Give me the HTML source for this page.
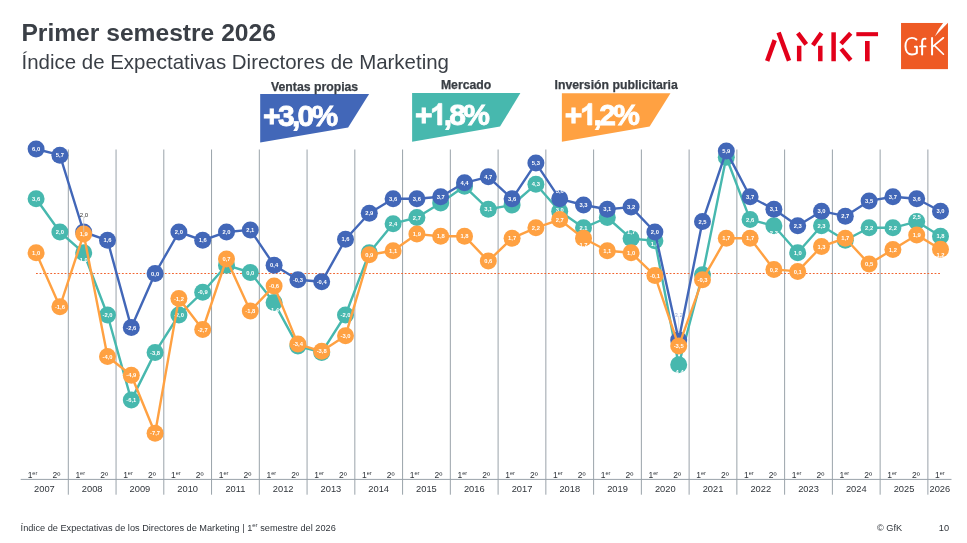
<!DOCTYPE html>
<html><head><meta charset="utf-8"><title>Índice de Expectativas Directores de Marketing</title>
<style>
html,body{margin:0;padding:0;background:#fff}
body{width:967px;height:543px;position:relative;overflow:hidden;font-family:"Liberation Sans",sans-serif;color:#3a3f46}
.abs{position:absolute;white-space:nowrap;line-height:1}
.title{left:21.4px;top:20.7px;font-size:24.62px;font-weight:bold}
.sub{left:21.5px;top:52.1px;font-size:20.47px}
.lab{font-size:12.25px;font-weight:bold;-webkit-text-stroke:0.25px #393e44;text-align:center;color:#393e44}
.big{font-size:30px;font-weight:bold;color:#fff;letter-spacing:-2.7px;-webkit-text-stroke:0.8px #fff}
.one{display:inline-block;width:16.68px;height:22.27px;margin-right:-2.7px;overflow:visible}
.yr{position:absolute;top:484.9px;font-size:9.3px;line-height:1;text-align:center;color:#30353b}
.hf{position:absolute;top:471.0px;width:23.875px;font-size:8.5px;line-height:1;text-align:center;color:#30353b}
.hf sup{font-size:5.6px;vertical-align:baseline;position:relative;top:-3.2px}
.foot{font-size:9.2px;color:#30353b}
.foot sup{font-size:6px;vertical-align:baseline;position:relative;top:-3.4px}
#w{position:absolute;left:0;top:0;width:967px;height:543px;will-change:transform;background:#fff}
</style></head><body><div id="w">
<div class="abs title">Primer semestre 2026</div>
<div class="abs sub">Índice de Expectativas Directores de Marketing</div>
<svg style="position:absolute;left:755px;top:20px" width="140" height="55" viewBox="0 0 967 380">
<g stroke="#e2001a" stroke-width="31" fill="none" stroke-linecap="butt">
<line x1="136" y1="139" x2="84" y2="284"/>
<line x1="163" y1="87" x2="235" y2="282"/>
<line x1="305" y1="178" x2="305" y2="285"/>
<line x1="296" y1="91" x2="354" y2="169"/>
<line x1="459" y1="90" x2="400" y2="174"/>
<line x1="451" y1="178" x2="451" y2="285"/>
<line x1="543" y1="85" x2="543" y2="285"/>
<line x1="661" y1="91" x2="594" y2="164"/>
<line x1="596" y1="199" x2="661" y2="278"/>
<line x1="700" y1="98" x2="850" y2="98" stroke-width="28"/>
<line x1="776" y1="145" x2="776" y2="285" stroke-width="32"/>
</g></svg>
<svg style="position:absolute;left:890px;top:15px" width="70" height="60" viewBox="0 0 634 543">
<rect x="100" y="72" width="425" height="418" fill="#ee5a24"/>
<path d="M407,192 Q440,120 481,72 L523,72 Z" fill="#fff"/>
<g stroke="#fff" stroke-width="18" fill="none" stroke-linecap="round" stroke-linejoin="round">
<path d="M239,222 C228,211 212,207 198,207 C162,207 140,240 140,283 C140,326 162,358 198,358 C218,358 235,352 243,345 L243,288 L226,288"/>
<path d="M321,215 C302,210 291,221 291,244 L291,357"/>
<line x1="273" y1="284" x2="322" y2="284"/>
<line x1="381" y1="207" x2="381" y2="357"/>
<line x1="389" y1="283" x2="484" y2="206" stroke-width="15"/>
<line x1="404" y1="277" x2="484" y2="355" stroke-width="15"/>
</g></svg>
<svg style="position:absolute;left:0;top:0" width="967" height="150" viewBox="0 0 967 150">
<polygon points="260.2,94.1 369.1,94.1 348.1,127.4 260.2,142.6" fill="#4267b8"/>
<polygon points="412.1,93.0 520.4,93.0 500.0,126.6 412.1,141.8" fill="#47b8ae"/>
<polygon points="561.9,93.3 670.5,93.3 649.6,126.6 561.9,141.8" fill="#ffa142"/>
</svg>
<div class="abs lab" style="left:264.6px;width:100px;top:81.23px">Ventas propias</div>
<div class="abs lab" style="left:416.1px;width:100px;top:78.93px">Mercado</div>
<div class="abs lab" style="left:546.2px;width:140px;top:79.43px">Inversión publicitaria</div>
<div class="abs big" style="left:263.1px;top:101.31px">+3,0%</div>
<div class="abs big" style="left:414.9px;top:99.91px">+<svg class="one" viewBox="0 -1500 1139 1520"><path d="M806,0 L525,0 L525,-1059 Q371,-915 162,-846 L162,-1101 Q272,-1137 401,-1237.5 Q530,-1338 578,-1472 L806,-1472 Z" fill="#fff" stroke="#fff" stroke-width="54"/></svg>,8%</div>
<div class="abs big" style="left:564.8px;top:99.91px">+<svg class="one" viewBox="0 -1500 1139 1520"><path d="M806,0 L525,0 L525,-1059 Q371,-915 162,-846 L162,-1101 Q272,-1137 401,-1237.5 Q530,-1338 578,-1472 L806,-1472 Z" fill="#fff" stroke="#fff" stroke-width="54"/></svg>,2%</div>
<svg width="967" height="543" viewBox="0 0 967 543" style="position:absolute;left:0;top:0" font-family="Liberation Sans, sans-serif">
<g stroke="#9aa3aa" stroke-width="1"><line x1="68.30" y1="149.5" x2="68.30" y2="494.7"/><line x1="116.06" y1="149.5" x2="116.06" y2="494.7"/><line x1="163.81" y1="149.5" x2="163.81" y2="494.7"/><line x1="211.56" y1="149.5" x2="211.56" y2="494.7"/><line x1="259.32" y1="149.5" x2="259.32" y2="494.7"/><line x1="307.07" y1="149.5" x2="307.07" y2="494.7"/><line x1="354.83" y1="149.5" x2="354.83" y2="494.7"/><line x1="402.59" y1="149.5" x2="402.59" y2="494.7"/><line x1="450.34" y1="149.5" x2="450.34" y2="494.7"/><line x1="498.10" y1="149.5" x2="498.10" y2="494.7"/><line x1="545.85" y1="149.5" x2="545.85" y2="494.7"/><line x1="593.61" y1="149.5" x2="593.61" y2="494.7"/><line x1="641.36" y1="149.5" x2="641.36" y2="494.7"/><line x1="689.12" y1="149.5" x2="689.12" y2="494.7"/><line x1="736.87" y1="149.5" x2="736.87" y2="494.7"/><line x1="784.62" y1="149.5" x2="784.62" y2="494.7"/><line x1="832.38" y1="149.5" x2="832.38" y2="494.7"/><line x1="880.13" y1="149.5" x2="880.13" y2="494.7"/><line x1="927.89" y1="149.5" x2="927.89" y2="494.7"/><line x1="20.7" y1="479.4" x2="951.5" y2="479.4"/></g>
<line x1="36" y1="273.5" x2="940" y2="273.5" stroke="#f1642f" stroke-width="1.05" stroke-dasharray="1.8 1.78"/>
<polyline points="36.1,198.8 59.9,232.0 83.7,252.8 107.5,315.0 131.3,400.1 155.1,352.4 178.9,315.0 202.7,292.2 226.5,265.2 250.3,272.5 274.1,302.6 297.9,346.1 321.7,352.4 345.5,315.0 369.3,252.8 393.1,223.7 416.9,217.5 440.7,202.9 464.5,186.3 488.3,209.2 512.1,205.0 535.9,184.3 559.7,211.2 583.5,227.8 607.3,217.5 631.1,238.6 654.9,240.7 678.7,364.8 702.5,274.7 726.3,157.3 750.1,219.6 773.9,225.8 797.7,252.8 821.5,225.8 845.3,240.3 869.1,227.8 892.9,227.8 916.7,221.6 940.5,236.2" fill="none" stroke="#47b8ae" stroke-width="2.4" stroke-linejoin="round"/>
<circle cx="36.1" cy="198.8" r="8.5" fill="#47b8ae"/>
<circle cx="59.9" cy="232.0" r="8.5" fill="#47b8ae"/>
<circle cx="83.7" cy="252.8" r="8.5" fill="#47b8ae"/>
<circle cx="107.5" cy="315.0" r="8.5" fill="#47b8ae"/>
<circle cx="131.3" cy="400.1" r="8.5" fill="#47b8ae"/>
<circle cx="155.1" cy="352.4" r="8.5" fill="#47b8ae"/>
<circle cx="178.9" cy="315.0" r="8.5" fill="#47b8ae"/>
<circle cx="202.7" cy="292.2" r="8.5" fill="#47b8ae"/>
<circle cx="226.5" cy="265.2" r="8.5" fill="#47b8ae"/>
<circle cx="250.3" cy="272.5" r="8.5" fill="#47b8ae"/>
<circle cx="274.1" cy="302.6" r="8.5" fill="#47b8ae"/>
<circle cx="297.9" cy="346.1" r="8.5" fill="#47b8ae"/>
<circle cx="321.7" cy="352.4" r="8.5" fill="#47b8ae"/>
<circle cx="345.5" cy="315.0" r="8.5" fill="#47b8ae"/>
<circle cx="369.3" cy="252.8" r="8.5" fill="#47b8ae"/>
<circle cx="393.1" cy="223.7" r="8.5" fill="#47b8ae"/>
<circle cx="416.9" cy="217.5" r="8.5" fill="#47b8ae"/>
<circle cx="440.7" cy="202.9" r="8.5" fill="#47b8ae"/>
<circle cx="464.5" cy="186.3" r="8.5" fill="#47b8ae"/>
<circle cx="488.3" cy="209.2" r="8.5" fill="#47b8ae"/>
<circle cx="512.1" cy="205.0" r="8.5" fill="#47b8ae"/>
<circle cx="535.9" cy="184.3" r="8.5" fill="#47b8ae"/>
<circle cx="559.7" cy="211.2" r="8.5" fill="#47b8ae"/>
<circle cx="583.5" cy="227.8" r="8.5" fill="#47b8ae"/>
<circle cx="607.3" cy="217.5" r="8.5" fill="#47b8ae"/>
<circle cx="631.1" cy="238.6" r="8.5" fill="#47b8ae"/>
<circle cx="654.9" cy="240.7" r="8.5" fill="#47b8ae"/>
<circle cx="678.7" cy="364.8" r="8.5" fill="#47b8ae"/>
<circle cx="702.5" cy="274.7" r="8.5" fill="#47b8ae"/>
<circle cx="726.3" cy="157.3" r="8.5" fill="#47b8ae"/>
<circle cx="750.1" cy="219.6" r="8.5" fill="#47b8ae"/>
<circle cx="773.9" cy="225.8" r="8.5" fill="#47b8ae"/>
<circle cx="797.7" cy="252.8" r="8.5" fill="#47b8ae"/>
<circle cx="821.5" cy="225.8" r="8.5" fill="#47b8ae"/>
<circle cx="845.3" cy="240.3" r="8.5" fill="#47b8ae"/>
<circle cx="869.1" cy="227.8" r="8.5" fill="#47b8ae"/>
<circle cx="892.9" cy="227.8" r="8.5" fill="#47b8ae"/>
<circle cx="916.7" cy="221.6" r="8.5" fill="#47b8ae"/>
<circle cx="940.5" cy="236.2" r="8.5" fill="#47b8ae"/>
<g fill="#fff" font-weight="bold" font-size="5.8" text-anchor="middle"><text x="36.1" y="200.9">3,6</text><text x="59.9" y="234.1">2,0</text><text x="83.7" y="262.4">1,0</text><text x="107.5" y="317.1">-2,0</text><text x="131.3" y="402.2">-6,1</text><text x="155.1" y="354.5">-3,8</text><text x="178.9" y="317.1">-2,0</text><text x="202.7" y="294.3">-0,9</text><text x="250.3" y="274.6">0,0</text><text x="274.1" y="311.7">-1,4</text><text x="345.5" y="317.1">-2,0</text><text x="393.1" y="225.8">2,4</text><text x="416.9" y="219.6">2,7</text><text x="488.3" y="211.3">3,1</text><text x="535.9" y="186.4">4,3</text><text x="559.7" y="212.3">3,0</text><text x="583.5" y="229.9">2,1</text><text x="631.1" y="233.7">1,7</text><text x="654.9" y="246.1">1,6</text><text x="678.7" y="374.4">-4,4</text><text x="750.1" y="221.7">2,6</text><text x="773.9" y="234.9">2,3</text><text x="797.7" y="254.8">1,0</text><text x="821.5" y="227.9">2,3</text><text x="869.1" y="229.9">2,2</text><text x="892.9" y="229.9">2,2</text><text x="916.7" y="218.7">2,5</text><text x="940.5" y="238.2">1,8</text></g>
<polyline points="36.1,149.0 59.9,155.2 83.7,232.0 107.5,240.3 131.3,327.4 155.1,273.5 178.9,232.0 202.7,240.3 226.5,232.0 250.3,229.9 274.1,265.2 297.9,279.7 321.7,281.8 345.5,239.3 369.3,213.3 393.1,198.8 416.9,198.8 440.7,196.7 464.5,182.8 488.3,176.8 512.1,198.8 535.9,163.1 559.7,198.8 583.5,205.0 607.3,209.2 631.1,207.1 654.9,232.0 678.7,339.9 702.5,221.6 726.3,151.1 750.1,196.7 773.9,209.2 797.7,225.8 821.5,211.2 845.3,216.2 869.1,200.9 892.9,196.7 916.7,198.8 940.5,211.2" fill="none" stroke="#4267b8" stroke-width="2.4" stroke-linejoin="round"/>
<circle cx="36.1" cy="149.0" r="8.5" fill="#4267b8"/>
<circle cx="59.9" cy="155.2" r="8.5" fill="#4267b8"/>
<circle cx="83.7" cy="232.0" r="8.5" fill="#4267b8"/>
<circle cx="107.5" cy="240.3" r="8.5" fill="#4267b8"/>
<circle cx="131.3" cy="327.4" r="8.5" fill="#4267b8"/>
<circle cx="155.1" cy="273.5" r="8.5" fill="#4267b8"/>
<circle cx="178.9" cy="232.0" r="8.5" fill="#4267b8"/>
<circle cx="202.7" cy="240.3" r="8.5" fill="#4267b8"/>
<circle cx="226.5" cy="232.0" r="8.5" fill="#4267b8"/>
<circle cx="250.3" cy="229.9" r="8.5" fill="#4267b8"/>
<circle cx="274.1" cy="265.2" r="8.5" fill="#4267b8"/>
<circle cx="297.9" cy="279.7" r="8.5" fill="#4267b8"/>
<circle cx="321.7" cy="281.8" r="8.5" fill="#4267b8"/>
<circle cx="345.5" cy="239.3" r="8.5" fill="#4267b8"/>
<circle cx="369.3" cy="213.3" r="8.5" fill="#4267b8"/>
<circle cx="393.1" cy="198.8" r="8.5" fill="#4267b8"/>
<circle cx="416.9" cy="198.8" r="8.5" fill="#4267b8"/>
<circle cx="440.7" cy="196.7" r="8.5" fill="#4267b8"/>
<circle cx="464.5" cy="182.8" r="8.5" fill="#4267b8"/>
<circle cx="488.3" cy="176.8" r="8.5" fill="#4267b8"/>
<circle cx="512.1" cy="198.8" r="8.5" fill="#4267b8"/>
<circle cx="535.9" cy="163.1" r="8.5" fill="#4267b8"/>
<circle cx="559.7" cy="198.8" r="8.5" fill="#4267b8"/>
<circle cx="583.5" cy="205.0" r="8.5" fill="#4267b8"/>
<circle cx="607.3" cy="209.2" r="8.5" fill="#4267b8"/>
<circle cx="631.1" cy="207.1" r="8.5" fill="#4267b8"/>
<circle cx="654.9" cy="232.0" r="8.5" fill="#4267b8"/>
<circle cx="678.7" cy="339.9" r="8.5" fill="#4267b8"/>
<circle cx="702.5" cy="221.6" r="8.5" fill="#4267b8"/>
<circle cx="726.3" cy="151.1" r="8.5" fill="#4267b8"/>
<circle cx="750.1" cy="196.7" r="8.5" fill="#4267b8"/>
<circle cx="773.9" cy="209.2" r="8.5" fill="#4267b8"/>
<circle cx="797.7" cy="225.8" r="8.5" fill="#4267b8"/>
<circle cx="821.5" cy="211.2" r="8.5" fill="#4267b8"/>
<circle cx="845.3" cy="216.2" r="8.5" fill="#4267b8"/>
<circle cx="869.1" cy="200.9" r="8.5" fill="#4267b8"/>
<circle cx="892.9" cy="196.7" r="8.5" fill="#4267b8"/>
<circle cx="916.7" cy="198.8" r="8.5" fill="#4267b8"/>
<circle cx="940.5" cy="211.2" r="8.5" fill="#4267b8"/>
<g fill="#fff" font-weight="bold" font-size="5.8" text-anchor="middle"><text x="36.1" y="151.1">6,0</text><text x="59.9" y="157.3">5,7</text><text x="107.5" y="242.4">1,6</text><text x="131.3" y="329.6">-2,6</text><text x="155.1" y="275.6">0,0</text><text x="178.9" y="234.1">2,0</text><text x="202.7" y="242.4">1,6</text><text x="226.5" y="234.1">2,0</text><text x="250.3" y="232.0">2,1</text><text x="274.1" y="267.3">0,4</text><text x="297.9" y="281.8">-0,3</text><text x="321.7" y="283.9">-0,4</text><text x="345.5" y="241.4">1,6</text><text x="369.3" y="215.4">2,9</text><text x="393.1" y="200.9">3,6</text><text x="416.9" y="200.9">3,6</text><text x="440.7" y="198.8">3,7</text><text x="464.5" y="184.9">4,4</text><text x="488.3" y="178.9">4,7</text><text x="512.1" y="200.9">3,6</text><text x="535.9" y="165.2">5,3</text><text x="559.7" y="193.4">3,6</text><text x="583.5" y="207.1">3,3</text><text x="607.3" y="211.3">3,1</text><text x="631.1" y="209.2">3,2</text><text x="654.9" y="234.1">2,0</text><text x="702.5" y="223.7">2,5</text><text x="726.3" y="153.2">5,9</text><text x="750.1" y="198.8">3,7</text><text x="773.9" y="211.3">3,1</text><text x="797.7" y="227.9">2,3</text><text x="821.5" y="213.3">3,0</text><text x="845.3" y="218.3">2,7</text><text x="869.1" y="203.0">3,5</text><text x="892.9" y="198.8">3,7</text><text x="916.7" y="200.9">3,6</text><text x="940.5" y="213.3">3,0</text></g>
<polyline points="36.1,252.8 59.9,306.7 83.7,234.1 107.5,356.5 131.3,375.2 155.1,433.3 178.9,298.4 202.7,329.5 226.5,259.0 250.3,310.9 274.1,285.9 297.9,344.1 321.7,351.3 345.5,335.8 369.3,254.8 393.1,250.7 416.9,234.1 440.7,236.2 464.5,236.2 488.3,261.1 512.1,238.2 535.9,227.8 559.7,219.6 583.5,238.2 607.3,250.7 631.1,252.8 654.9,275.6 678.7,346.1 702.5,279.7 726.3,238.2 750.1,238.2 773.9,269.4 797.7,271.4 821.5,246.5 845.3,238.2 869.1,264.0 892.9,249.4 916.7,234.9 940.5,249.2" fill="none" stroke="#ffa142" stroke-width="2.4" stroke-linejoin="round"/>
<circle cx="36.1" cy="252.8" r="8.5" fill="#ffa142"/>
<circle cx="59.9" cy="306.7" r="8.5" fill="#ffa142"/>
<circle cx="83.7" cy="234.1" r="8.5" fill="#ffa142"/>
<circle cx="107.5" cy="356.5" r="8.5" fill="#ffa142"/>
<circle cx="131.3" cy="375.2" r="8.5" fill="#ffa142"/>
<circle cx="155.1" cy="433.3" r="8.5" fill="#ffa142"/>
<circle cx="178.9" cy="298.4" r="8.5" fill="#ffa142"/>
<circle cx="202.7" cy="329.5" r="8.5" fill="#ffa142"/>
<circle cx="226.5" cy="259.0" r="8.5" fill="#ffa142"/>
<circle cx="250.3" cy="310.9" r="8.5" fill="#ffa142"/>
<circle cx="274.1" cy="285.9" r="8.5" fill="#ffa142"/>
<circle cx="297.9" cy="344.1" r="8.5" fill="#ffa142"/>
<circle cx="321.7" cy="351.3" r="8.5" fill="#ffa142"/>
<circle cx="345.5" cy="335.8" r="8.5" fill="#ffa142"/>
<circle cx="369.3" cy="254.8" r="8.5" fill="#ffa142"/>
<circle cx="393.1" cy="250.7" r="8.5" fill="#ffa142"/>
<circle cx="416.9" cy="234.1" r="8.5" fill="#ffa142"/>
<circle cx="440.7" cy="236.2" r="8.5" fill="#ffa142"/>
<circle cx="464.5" cy="236.2" r="8.5" fill="#ffa142"/>
<circle cx="488.3" cy="261.1" r="8.5" fill="#ffa142"/>
<circle cx="512.1" cy="238.2" r="8.5" fill="#ffa142"/>
<circle cx="535.9" cy="227.8" r="8.5" fill="#ffa142"/>
<circle cx="559.7" cy="219.6" r="8.5" fill="#ffa142"/>
<circle cx="583.5" cy="238.2" r="8.5" fill="#ffa142"/>
<circle cx="607.3" cy="250.7" r="8.5" fill="#ffa142"/>
<circle cx="631.1" cy="252.8" r="8.5" fill="#ffa142"/>
<circle cx="654.9" cy="275.6" r="8.5" fill="#ffa142"/>
<circle cx="678.7" cy="346.1" r="8.5" fill="#ffa142"/>
<circle cx="702.5" cy="279.7" r="8.5" fill="#ffa142"/>
<circle cx="726.3" cy="238.2" r="8.5" fill="#ffa142"/>
<circle cx="750.1" cy="238.2" r="8.5" fill="#ffa142"/>
<circle cx="773.9" cy="269.4" r="8.5" fill="#ffa142"/>
<circle cx="797.7" cy="271.4" r="8.5" fill="#ffa142"/>
<circle cx="821.5" cy="246.5" r="8.5" fill="#ffa142"/>
<circle cx="845.3" cy="238.2" r="8.5" fill="#ffa142"/>
<circle cx="869.1" cy="264.0" r="8.5" fill="#ffa142"/>
<circle cx="892.9" cy="249.4" r="8.5" fill="#ffa142"/>
<circle cx="916.7" cy="234.9" r="8.5" fill="#ffa142"/>
<circle cx="940.5" cy="249.2" r="8.5" fill="#ffa142"/>
<g fill="#fff" font-weight="bold" font-size="5.8" text-anchor="middle"><text x="36.1" y="254.8">1,0</text><text x="59.9" y="308.8">-1,6</text><text x="83.7" y="236.2">1,9</text><text x="107.5" y="358.6">-4,0</text><text x="131.3" y="377.3">-4,9</text><text x="155.1" y="435.4">-7,7</text><text x="178.9" y="300.5">-1,2</text><text x="202.7" y="331.6">-2,7</text><text x="226.5" y="261.1">0,7</text><text x="250.3" y="313.0">-1,8</text><text x="274.1" y="288.1">-0,6</text><text x="297.9" y="346.2">-3,4</text><text x="321.7" y="353.4">-3,8</text><text x="345.5" y="337.9">-3,0</text><text x="369.3" y="256.9">0,9</text><text x="393.1" y="252.8">1,1</text><text x="416.9" y="236.2">1,9</text><text x="440.7" y="238.2">1,8</text><text x="464.5" y="238.2">1,8</text><text x="488.3" y="263.2">0,6</text><text x="512.1" y="240.3">1,7</text><text x="535.9" y="229.9">2,2</text><text x="559.7" y="221.7">2,7</text><text x="583.5" y="247.3">1,7</text><text x="607.3" y="252.8">1,1</text><text x="631.1" y="254.8">1,0</text><text x="654.9" y="277.7">-0,1</text><text x="678.7" y="348.2">-3,5</text><text x="702.5" y="281.8">-0,3</text><text x="726.3" y="240.3">1,7</text><text x="750.1" y="240.3">1,7</text><text x="773.9" y="271.5">0,2</text><text x="797.7" y="273.5">0,1</text><text x="821.5" y="248.6">1,3</text><text x="845.3" y="240.3">1,7</text><text x="869.1" y="266.1">0,5</text><text x="892.9" y="251.5">1,2</text><text x="916.7" y="237.0">1,9</text><text x="940.5" y="256.5">1,2</text></g>
<line x1="83.7" y1="217.5" x2="83.7" y2="232" stroke="#c9c9c9" stroke-width="0.8"/>
<text x="84.0" y="216.8" font-size="6" fill="#333" text-anchor="middle">2,0</text>
<line x1="678.7" y1="318" x2="678.7" y2="333" stroke="#d5d9e6" stroke-width="0.8"/>
<text x="678.7" y="316.5" font-size="6" fill="#9caedb" text-anchor="middle">3,2</text>
</svg>
<div class="yr" style="left:20.55px;width:47.75px">2007</div>
<div class="hf" style="left:20.55px">1<sup>er</sup></div>
<div class="hf" style="left:44.42px">2º</div>
<div class="yr" style="left:68.31px;width:47.75px">2008</div>
<div class="hf" style="left:68.31px">1<sup>er</sup></div>
<div class="hf" style="left:92.18px">2º</div>
<div class="yr" style="left:116.06px;width:47.75px">2009</div>
<div class="hf" style="left:116.06px">1<sup>er</sup></div>
<div class="hf" style="left:139.94px">2º</div>
<div class="yr" style="left:163.82px;width:47.75px">2010</div>
<div class="hf" style="left:163.82px">1<sup>er</sup></div>
<div class="hf" style="left:187.69px">2º</div>
<div class="yr" style="left:211.57px;width:47.75px">2011</div>
<div class="hf" style="left:211.57px">1<sup>er</sup></div>
<div class="hf" style="left:235.45px">2º</div>
<div class="yr" style="left:259.32px;width:47.75px">2012</div>
<div class="hf" style="left:259.32px">1<sup>er</sup></div>
<div class="hf" style="left:283.20px">2º</div>
<div class="yr" style="left:307.08px;width:47.75px">2013</div>
<div class="hf" style="left:307.08px">1<sup>er</sup></div>
<div class="hf" style="left:330.96px">2º</div>
<div class="yr" style="left:354.84px;width:47.75px">2014</div>
<div class="hf" style="left:354.84px">1<sup>er</sup></div>
<div class="hf" style="left:378.71px">2º</div>
<div class="yr" style="left:402.59px;width:47.75px">2015</div>
<div class="hf" style="left:402.59px">1<sup>er</sup></div>
<div class="hf" style="left:426.47px">2º</div>
<div class="yr" style="left:450.35px;width:47.75px">2016</div>
<div class="hf" style="left:450.35px">1<sup>er</sup></div>
<div class="hf" style="left:474.22px">2º</div>
<div class="yr" style="left:498.10px;width:47.75px">2017</div>
<div class="hf" style="left:498.10px">1<sup>er</sup></div>
<div class="hf" style="left:521.98px">2º</div>
<div class="yr" style="left:545.86px;width:47.75px">2018</div>
<div class="hf" style="left:545.86px">1<sup>er</sup></div>
<div class="hf" style="left:569.73px">2º</div>
<div class="yr" style="left:593.61px;width:47.75px">2019</div>
<div class="hf" style="left:593.61px">1<sup>er</sup></div>
<div class="hf" style="left:617.49px">2º</div>
<div class="yr" style="left:641.37px;width:47.75px">2020</div>
<div class="hf" style="left:641.37px">1<sup>er</sup></div>
<div class="hf" style="left:665.24px">2º</div>
<div class="yr" style="left:689.12px;width:47.75px">2021</div>
<div class="hf" style="left:689.12px">1<sup>er</sup></div>
<div class="hf" style="left:713.00px">2º</div>
<div class="yr" style="left:736.88px;width:47.75px">2022</div>
<div class="hf" style="left:736.88px">1<sup>er</sup></div>
<div class="hf" style="left:760.75px">2º</div>
<div class="yr" style="left:784.63px;width:47.75px">2023</div>
<div class="hf" style="left:784.63px">1<sup>er</sup></div>
<div class="hf" style="left:808.50px">2º</div>
<div class="yr" style="left:832.38px;width:47.75px">2024</div>
<div class="hf" style="left:832.38px">1<sup>er</sup></div>
<div class="hf" style="left:856.26px">2º</div>
<div class="yr" style="left:880.14px;width:47.75px">2025</div>
<div class="hf" style="left:880.14px">1<sup>er</sup></div>
<div class="hf" style="left:904.01px">2º</div>
<div class="yr" style="left:927.89px;width:23.9px">2026</div>
<div class="hf" style="left:927.89px">1<sup>er</sup></div>
<div class="abs foot" style="left:20.6px;top:523.6px">Índice de Expectativas de los Directores de Marketing | 1<sup>er</sup> semestre del 2026</div>
<div class="abs foot" style="left:877px;top:523.6px">© GfK</div>
<div class="abs foot" style="left:938.8px;top:523.6px">10</div>
</div></body></html>
